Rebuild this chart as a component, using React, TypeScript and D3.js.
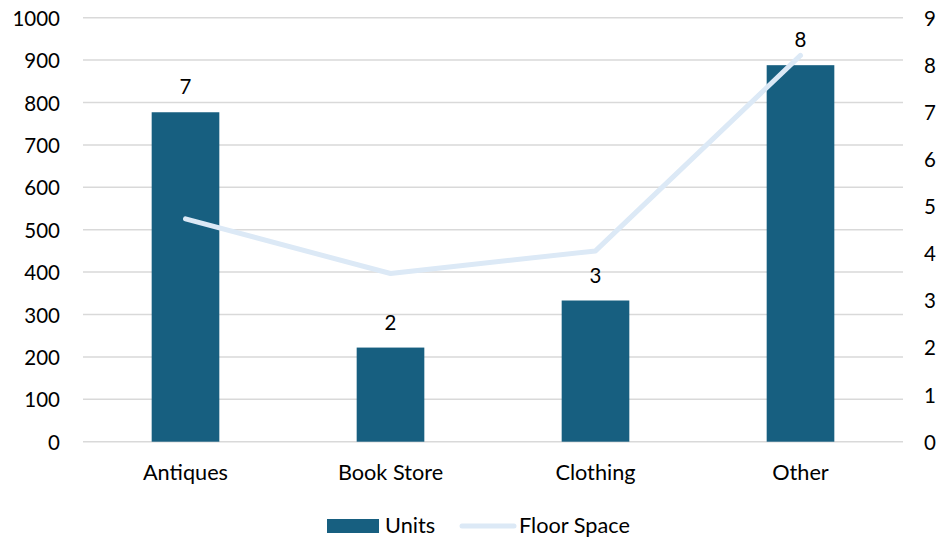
import React from "react";
import * as d3 from "d3";

// Store categories and their series
const categories = ["Antiques", "Book Store", "Clothing", "Other"];
const units = [777, 222, 333, 888];
const floorSpace = [4.73, 3.57, 4.05, 8.2];
const storeCounts = ["7", "2", "3", "8"];
const leftTicks = [0, 100, 200, 300, 400, 500, 600, 700, 800, 900, 1000];
const rightTicks = [0, 1, 2, 3, 4, 5, 6, 7, 8, 9];

const W = 937;
const H = 539;
const margin = { left: 83, right: 34, top: 17.7, bottom: 97.3 };
const FONT = "Lato, 'Open Sans', sans-serif";
const NUM_SIZE = 20.5;
const WORD_SIZE = 21.7;
const BAR = "#175f80";
const LINE = "#dce9f6";
const GRID = "#d9d9d9";
const TEXT = "#000000";

export default function App() {
  const x = d3
    .scaleBand<string>()
    .domain(categories)
    .range([margin.left, W - margin.right])
    .paddingInner(0.67)
    .paddingOuter(0.335);
  const yL = d3.scaleLinear().domain([0, 1000]).range([H - margin.bottom, margin.top]);
  const yR = d3.scaleLinear().domain([0, 9]).range([H - margin.bottom, margin.top]);

  const center = (c: string) => (x(c) ?? 0) + x.bandwidth() / 2;

  const line = d3
    .line<number>()
    .x((_, i) => center(categories[i]))
    .y((d) => yR(d));

  return (
    <svg
      width={W}
      height={H}
      style={{ position: "absolute", left: 0, top: 0, background: "#fff" }}
      fontFamily={FONT}
    >
      {/* gridlines */}
      {leftTicks.map((t) => (
        <line
          key={"g" + t}
          x1={margin.left}
          x2={W - margin.right}
          y1={yL(t)}
          y2={yL(t)}
          stroke={GRID}
          strokeWidth={1.5}
        />
      ))}

      {/* left axis labels */}
      {leftTicks.map((t) => (
        <text
          key={"l" + t}
          x={60}
          y={yL(t)}
          textAnchor="end"
          dominantBaseline="central"
          fontSize={NUM_SIZE}
          fill={TEXT}
        >
          {t}
        </text>
      ))}

      {/* right axis labels */}
      {rightTicks.map((t) => (
        <text
          key={"r" + t}
          x={924}
          y={yR(t)}
          textAnchor="start"
          dominantBaseline="central"
          fontSize={NUM_SIZE}
          fill={TEXT}
        >
          {t}
        </text>
      ))}

      {/* bars */}
      {categories.map((c, i) => (
        <rect
          key={"b" + c}
          x={x(c)}
          y={yL(units[i])}
          width={x.bandwidth()}
          height={yL(0) - yL(units[i])}
          fill={BAR}
        />
      ))}

      {/* bar labels */}
      {categories.map((c, i) => (
        <text
          key={"bl" + c}
          x={center(c)}
          y={yL(units[i]) - 18}
          textAnchor="middle"
          fontSize={NUM_SIZE}
          fill={TEXT}
        >
          {storeCounts[i]}
        </text>
      ))}

      {/* floor space line */}
      <path
        d={line(floorSpace) ?? ""}
        fill="none"
        stroke={LINE}
        strokeWidth={5}
        strokeLinecap="round"
        strokeLinejoin="round"
      />

      {/* category labels */}
      {categories.map((c) => (
        <text
          key={"c" + c}
          x={center(c)}
          y={480}
          textAnchor="middle"
          fontSize={WORD_SIZE}
          fill={TEXT}
        >
          {c}
        </text>
      ))}

      {/* legend */}
      <rect x={327} y={519} width={52} height={14} fill={BAR} />
      <text x={385} y={533} fontSize={WORD_SIZE} fill={TEXT}>
        Units
      </text>
      <line
        x1={462}
        x2={514}
        y1={526}
        y2={526}
        stroke={LINE}
        strokeWidth={5}
        strokeLinecap="round"
      />
      <text x={519} y={533} fontSize={WORD_SIZE} fill={TEXT}>
        Floor Space
      </text>
    </svg>
  );
}
